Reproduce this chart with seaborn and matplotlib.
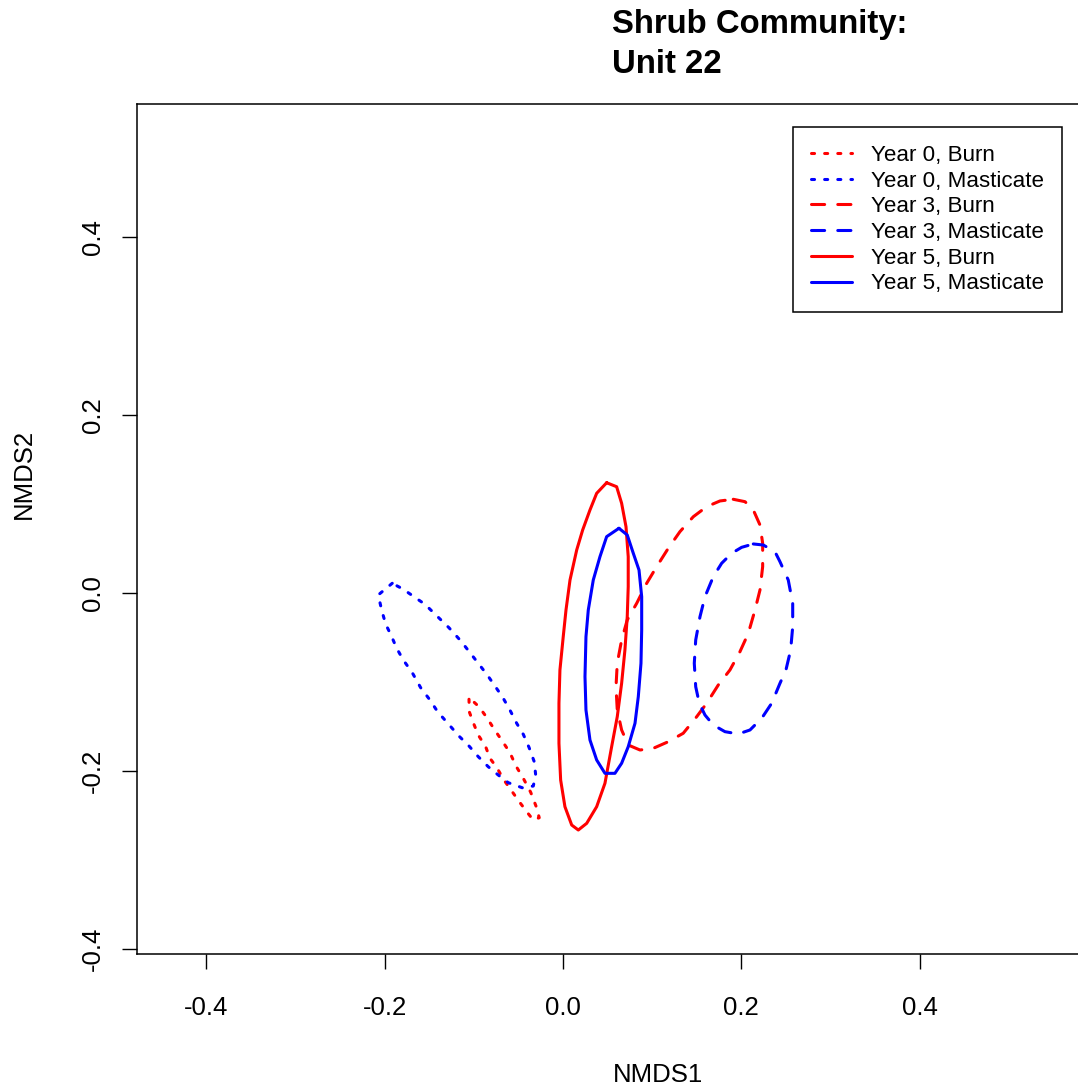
import matplotlib
matplotlib.use("Agg")
import matplotlib.pyplot as plt
import seaborn as sns
import pandas as pd

# ---------------- data (outline points) ----------------
groups = ["Year 0, Burn", "Year 0, Masticate", "Year 3, Burn",
          "Year 3, Masticate", "Year 5, Burn", "Year 5, Masticate"]

y0_burn_x = [-0.1054, -0.1051, -0.1006, -0.0950, -0.0867, -0.0819, -0.0744, -0.0662,
             -0.0583, -0.0490, -0.0407, -0.0333, -0.0266, -0.0303, -0.0362, -0.0445,
             -0.0527, -0.0595, -0.0681, -0.0771, -0.0856, -0.0942, -0.1024]
y0_burn_y = [-0.1194, -0.1334, -0.1457, -0.1596, -0.1727, -0.1857, -0.1958, -0.2101,
             -0.2213, -0.2345, -0.2457, -0.2551, -0.2525, -0.2393, -0.2239, -0.2082,
             -0.1944, -0.1794, -0.1663, -0.1531, -0.1397, -0.1278, -0.1202]

y0_mast_x = [-0.1915, -0.2072, -0.2034, -0.1989, -0.1921, -0.1865, -0.1791, -0.1690,
             -0.1596, -0.1492, -0.1406, -0.1275, -0.1167, -0.1054, -0.0950, -0.0838,
             -0.0726, -0.0614, -0.0457, -0.0333, -0.0306, -0.0322, -0.0381, -0.0445,
             -0.0519, -0.0595, -0.0676, -0.0763, -0.0849, -0.0950, -0.1051, -0.1148,
             -0.1279, -0.1406, -0.1548, -0.1671, -0.1791]
y0_mast_y = [0.0109, -0.0022, -0.0191, -0.0348, -0.0491, -0.0621, -0.0753, -0.0896,
             -0.1064, -0.1202, -0.1334, -0.1483, -0.1607, -0.1719, -0.1839, -0.1952,
             -0.2045, -0.2131, -0.2188, -0.2169, -0.2045, -0.1896, -0.1734, -0.1588,
             -0.1464, -0.1315, -0.1172, -0.1045, -0.0921, -0.0790, -0.0660, -0.0536,
             -0.0390, -0.0266, -0.0127, -0.0042, 0.0042]

y3_burn_x = [0.1910, 0.2042, 0.2135, 0.2210, 0.2240, 0.2240, 0.2210, 0.2154, 0.2079,
             0.1985, 0.1873, 0.1742, 0.1612, 0.1500, 0.1349, 0.1181, 0.1013, 0.0864,
             0.0732, 0.0658, 0.0609, 0.0595, 0.0609, 0.0658, 0.0721, 0.0827, 0.0939,
             0.1051, 0.1181, 0.1312, 0.1462, 0.1612, 0.1761]
y3_burn_y = [0.1053, 0.1026, 0.0933, 0.0764, 0.0558, 0.0296, 0.0034, -0.0191, -0.0453,
             -0.0660, -0.0865, -0.1034, -0.1239, -0.1390, -0.1576, -0.1671, -0.1745,
             -0.1764, -0.1708, -0.1539, -0.1315, -0.1053, -0.0790, -0.0528, -0.0303,
             -0.0116, 0.0109, 0.0296, 0.0502, 0.0689, 0.0857, 0.0970, 0.1034]

y3_mast_x = [0.2135, 0.2247, 0.2378, 0.2434, 0.2527, 0.2577, 0.2577, 0.2554, 0.2501,
             0.2434, 0.2341, 0.2229, 0.2098, 0.1966, 0.1817, 0.1686, 0.1593, 0.1529,
             0.1489, 0.1473, 0.1489, 0.1537, 0.1593, 0.1686, 0.1780, 0.1892, 0.2004]
y3_mast_y = [0.0551, 0.0539, 0.0464, 0.0352, 0.0146, -0.0116, -0.0379, -0.0640, -0.0865,
             -0.1015, -0.1239, -0.1408, -0.1539, -0.1584, -0.1558, -0.1483, -0.1371,
             -0.1239, -0.1053, -0.0790, -0.0528, -0.0266, -0.0042, 0.0183, 0.0334,
             0.0446, 0.0513]

y5_burn_x = [0.0490, 0.0602, 0.0658, 0.0707, 0.0732, 0.0732, 0.0721, 0.0695, 0.0658,
             0.0609, 0.0546, 0.0471, 0.0378, 0.0266, 0.0172, 0.0098, 0.0022, -0.0026,
             -0.0045, -0.0045, -0.0034, 0.0003, 0.0034, 0.0079, 0.0154, 0.0221, 0.0303,
             0.0378]
y5_burn_y = [0.1239, 0.1194, 0.1008, 0.0745, 0.0408, 0.0071, -0.0266, -0.0640, -0.1015,
             -0.1390, -0.1727, -0.2138, -0.2401, -0.2588, -0.2663, -0.2607, -0.2401,
             -0.2101, -0.1689, -0.1239, -0.0865, -0.0491, -0.0191, 0.0146, 0.0483,
             0.0708, 0.0933, 0.1120]

y5_mast_x = [0.0628, 0.0721, 0.0789, 0.0853, 0.0883, 0.0883, 0.0875, 0.0845, 0.0808,
             0.0732, 0.0658, 0.0583, 0.0471, 0.0378, 0.0303, 0.0258, 0.0247, 0.0258,
             0.0284, 0.0340, 0.0415, 0.0490]
y5_mast_y = [0.0727, 0.0652, 0.0446, 0.0258, -0.0042, -0.0416, -0.0790, -0.1165, -0.1464,
             -0.1727, -0.1913, -0.2026, -0.2026, -0.1876, -0.1652, -0.1315, -0.0940,
             -0.0491, -0.0191, 0.0146, 0.0408, 0.0633]

x_ticks = [-0.4, -0.2, 0.0, 0.2, 0.4]
y_ticks = [-0.4, -0.2, 0.0, 0.2, 0.4]
x_tick_labels = ["-0.4", "-0.2", "0.0", "0.2", "0.4"]
y_tick_labels = ["-0.4", "-0.2", "0.0", "0.2", "0.4"]

# ---------------- build table ----------------
outlines = {
    "Year 0, Burn": (y0_burn_x, y0_burn_y),
    "Year 0, Masticate": (y0_mast_x, y0_mast_y),
    "Year 3, Burn": (y3_burn_x, y3_burn_y),
    "Year 3, Masticate": (y3_mast_x, y3_mast_y),
    "Year 5, Burn": (y5_burn_x, y5_burn_y),
    "Year 5, Masticate": (y5_mast_x, y5_mast_y),
}
rows = []
for g in groups:
    xs, ys = outlines[g]
    xs = list(xs) + [xs[0]]
    ys = list(ys) + [ys[0]]
    for i, (xv, yv) in enumerate(zip(xs, ys)):
        rows.append({"group": g, "order": i, "NMDS1": xv, "NMDS2": yv})
df = pd.DataFrame(rows)

palette = {g: ("#FF0000" if "Burn" in g else "#0000FF") for g in groups}
dashes = {}
for g in groups:
    if g.startswith("Year 0"):
        dashes[g] = (1.0, 3.3)
    elif g.startswith("Year 3"):
        dashes[g] = (4.3, 4.3)
    else:
        dashes[g] = ""

# ---------------- plot ----------------
sns.set_theme(style="white")
plt.rcParams["font.family"] = ["Liberation Sans", "DejaVu Sans"]
plt.rcParams["text.color"] = "black"
plt.rcParams["lines.dash_capstyle"] = "round"
plt.rcParams["lines.solid_capstyle"] = "round"
plt.rcParams["lines.solid_joinstyle"] = "round"
plt.rcParams["lines.dash_joinstyle"] = "round"

W, H = 1078, 1089
fig = plt.figure(figsize=(W / 100, H / 100), dpi=100)
ax_left, ax_right, ax_top, ax_bottom = 137, 1179, 104, 954
ax = fig.add_axes([ax_left / W, 1 - ax_bottom / H,
                   (ax_right - ax_left) / W, (ax_bottom - ax_top) / H])

sns.lineplot(data=df, x="NMDS1", y="NMDS2", hue="group", style="group",
             hue_order=groups, style_order=groups, palette=palette,
             dashes=dashes, sort=False, estimator=None, units="group",
             linewidth=2.2, ax=ax, legend=True)

ax.set_xlim(-0.4778, 0.691)
ax.set_ylim(-0.4056, 0.5494)
ax.set_xticks(x_ticks)
ax.set_xticklabels(x_tick_labels)
ax.set_yticks(y_ticks)
ax.set_yticklabels(y_tick_labels, rotation=90, va="center")
ax.tick_params(axis="both", direction="out", length=10.8, width=1.0,
               color="black", labelsize=18.5, labelcolor="black")
ax.tick_params(axis="x", pad=19.5, bottom=True)
ax.tick_params(axis="y", pad=12, left=True)
for s in ax.spines.values():
    s.set_color("black")
    s.set_linewidth(1.1)

ax.set_xlabel("")
ax.set_ylabel("")
fig.text(658 / W, 1 - 1082 / H, "NMDS1", ha="center", va="baseline",
         fontsize=18.5, color="black")
fig.text(24 / W, 1 - 474 / H, "NMDS2", ha="center", va="center",
         rotation=90, fontsize=18.5, color="black")

fig.text(612 / W, 1 - 33 / H, "Shrub Community:", ha="left", va="baseline",
         fontsize=23.7, fontweight="bold", color="black")
fig.text(612 / W, 1 - 73 / H, "Unit 22", ha="left", va="baseline",
         fontsize=23.7, fontweight="bold", color="black")

handles, labels = ax.get_legend_handles_labels()
pairs = [(h, l) for h, l in zip(handles, labels) if l in groups]
leg = ax.legend([p[0] for p in pairs], [p[1] for p in pairs],
                loc="upper right", bbox_to_anchor=(1062 / W, 1 - 127 / H),
                bbox_transform=fig.transFigure, fontsize=16.1, frameon=True,
                fancybox=False, edgecolor="black", framealpha=1,
                handlelength=1.85, handletextpad=0.85, labelspacing=0.21,
                borderpad=0.8, borderaxespad=0)
leg.get_frame().set_linewidth(1.1)
for t in leg.get_texts():
    t.set_color("black")
for line in leg.get_lines():
    line.set_linewidth(2.2)

fig.savefig("out.png", dpi=100, facecolor="white")
